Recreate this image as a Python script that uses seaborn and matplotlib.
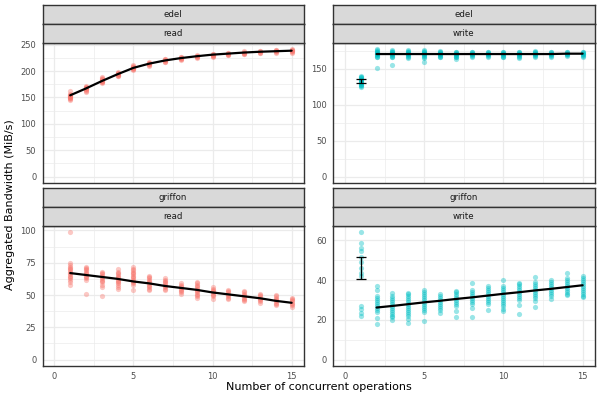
import matplotlib
matplotlib.use("Agg")
import matplotlib.pyplot as plt
import numpy as np
import pandas as pd
import seaborn as sns
from matplotlib.ticker import MultipleLocator

sns.set_style("white")
plt.rcParams['font.family'] = ['DejaVu Sans']

# ---------------- data ----------------
clusters = ["edel", "edel", "griffon", "griffon"]
operations = ["read", "write", "read", "write"]
colors = {"read": "#F8766D", "write": "#00BFC4"}

edel_read_pts = {
    1: [146, 147, 148, 149, 150, 151, 152, 153, 154, 155, 157, 163],
    2: [161, 163, 164, 165, 166, 167, 168, 169, 170, 172],
    3: [177, 179, 180, 181, 182, 183, 184, 185, 186, 188],
    4: [190, 191, 192, 193, 194, 195, 196, 197, 198],
    5: [201, 203, 204, 205, 206, 207, 208, 209, 211],
    6: [210, 212, 213, 214, 215, 216, 217],
    7: [217, 218, 219, 220, 221, 222, 223],
    8: [221, 222, 223, 224, 225, 226, 227],
    9: [225, 226, 227, 228, 229, 230],
    10: [227, 228, 229, 230, 231, 232, 233],
    11: [230, 231, 232, 233, 234, 235],
    12: [232, 233, 234, 235, 236, 237],
    13: [234, 235, 236, 237, 238],
    14: [235, 236, 237, 238, 239, 240],
    15: [235, 236, 237, 238, 239, 240, 241],
}
edel_read_line_x = [1, 2, 3, 4, 5, 6, 7, 8, 9, 10, 11, 12, 13, 14, 15]
edel_read_line_y = [154, 167, 181, 194, 206, 214, 220, 224.5, 228, 231, 233, 235, 236.5, 237.5, 238.5]

edel_write_pts = {
    1: [124, 126, 127, 128, 129, 130, 131, 132, 133, 134, 135, 136, 137, 138, 139, 140],
    2: [151, 166, 167, 168, 169, 170, 171, 172, 173, 174, 175, 176, 177],
    3: [155, 166, 167, 168, 169, 170, 171, 172, 173, 174, 175, 176],
    4: [165, 166, 168, 169, 170, 171, 172, 173, 174, 175, 176],
    5: [160, 165, 167, 168, 169, 170, 171, 172, 173, 174, 175, 176],
    6: [166, 167, 168, 169, 170, 171, 172, 173, 174, 175],
    7: [164, 166, 167, 168, 169, 170, 171, 172, 173, 174],
    8: [167, 168, 169, 170, 171, 172, 173, 174],
    9: [167, 168, 169, 170, 171, 172, 173, 174],
    10: [166, 167, 168, 169, 170, 171, 172, 173, 174],
    11: [165, 167, 168, 169, 170, 171, 172, 173, 174],
    12: [167, 168, 169, 170, 171, 172, 173, 174, 175],
    13: [167, 168, 169, 170, 171, 172, 173, 174],
    14: [168, 169, 170, 171, 172, 173, 174],
    15: [167, 168, 169, 170, 171, 172, 173, 174],
}
edel_write_line_x = [2, 3, 4, 5, 6, 7, 8, 9, 10, 11, 12, 13, 14, 15]
edel_write_line_y = [170.5, 170.5, 170.5, 170.5, 170.5, 170.5, 170.5, 170.5, 170.5, 170.5, 170.5, 170.5, 171, 171]
edel_write_err = {"x": 1, "mean": 133.3, "lo": 130.8, "hi": 135.8}

griffon_read_pts = {
    1: [58, 60, 62, 63, 64, 65, 66, 67, 68, 69, 70, 71, 72, 73, 75, 98.5],
    2: [51, 62, 63, 64, 65, 66, 67, 68, 69, 70, 71, 72],
    3: [49, 56, 58, 60, 61, 62, 63, 64, 65, 66, 67, 68],
    4: [55, 56, 58, 59, 60, 61, 62, 63, 64, 65, 66, 67, 68, 70],
    5: [54, 58, 59, 60, 61, 62, 63, 64, 65, 66, 67, 68, 69, 70, 71.5],
    6: [54, 55, 56, 57, 58, 59, 60, 61, 62, 63, 64, 65],
    7: [54, 55, 56, 57, 58, 59, 60, 61, 62, 63],
    8: [51, 52, 53, 54, 55, 56, 57, 58, 59],
    9: [48, 49, 50, 51, 52, 53, 54, 55, 56, 57, 58, 59, 60],
    10: [47, 49, 50, 51, 52, 53, 54, 55, 56],
    11: [47, 48, 49, 50, 51, 52, 53, 54],
    12: [45, 46, 47, 48, 49, 50, 51, 52, 53],
    13: [44, 45, 46, 47, 48, 49, 50, 51],
    14: [42.5, 43, 44, 45, 46, 47, 48, 49, 50],
    15: [41, 42, 43, 44, 45, 46, 47, 48],
}
griffon_read_line_x = [1, 2, 3, 4, 5, 6, 7, 8, 9, 10, 11, 12, 13, 14, 15]
griffon_read_line_y = [67, 65.5, 64, 62.5, 60.5, 59, 57, 55.5, 54, 52, 50.5, 49, 47.5, 45.5, 44]

griffon_write_pts = {
    1: [22, 23.5, 25.5, 27, 42, 43.5, 46, 49, 51.5, 54.5, 56, 58.5, 64],
    2: [18, 21, 24, 25, 26, 27, 28, 29, 30, 31, 32, 35, 37],
    3: [20, 21.5, 22, 23, 24, 25, 26, 27, 28, 29, 30, 31, 32, 33.5],
    4: [18.5, 20.5, 22, 23, 24, 25, 26, 27, 28, 29, 30, 31, 32, 33, 33.5],
    5: [19.5, 24, 25, 26, 27, 28, 29, 30, 31, 32, 33, 34, 35],
    6: [23.5, 25, 26, 27, 28, 29, 30, 31, 32, 33],
    7: [21.5, 24.5, 27, 28, 29, 30, 31, 32, 33, 34, 34.5],
    8: [21.5, 26, 28, 29, 30, 31, 32, 33, 34, 35, 38.5],
    9: [25, 28, 29, 30, 31, 32, 33, 34, 35, 36, 37],
    10: [24.5, 25.5, 27, 28, 29, 30, 31, 32, 33, 34, 35, 36, 37, 40],
    11: [23, 27.5, 30, 31, 32, 33, 34, 35, 36, 37, 38, 38.5],
    12: [26.5, 29.5, 31, 32, 33, 34, 35, 36, 37, 38, 39, 41.5],
    13: [30.5, 32, 33, 34, 35, 36, 37, 38, 39, 40],
    14: [32.5, 33, 34, 35, 36, 37, 38, 39, 40, 41, 43.5],
    15: [31.5, 32, 33, 34, 35, 36, 37, 38, 39, 40, 41, 42],
}
griffon_write_line_x = [2, 3, 4, 5, 6, 7, 8, 9, 10, 11, 12, 13, 14, 15]
griffon_write_line_y = [26.2, 27, 27.9, 28.8, 29.6, 30.5, 31.3, 32.2, 33.1, 33.9, 34.8, 35.6, 36.5, 37.4]
griffon_write_err = {"x": 1, "mean": 46, "lo": 40.5, "hi": 51.5}

x_ticks = [0, 5, 10, 15]
y_steps = [50, 50, 25, 20]
x_label = "Number of concurrent operations"
y_label = "Aggregated Bandwidth (MiB/s)"

panels = [
    (edel_read_pts, edel_read_line_x, edel_read_line_y, None),
    (edel_write_pts, edel_write_line_x, edel_write_line_y, edel_write_err),
    (griffon_read_pts, griffon_read_line_x, griffon_read_line_y, None),
    (griffon_write_pts, griffon_write_line_x, griffon_write_line_y, griffon_write_err),
]

# ---------------- figure ----------------
W, H = 600, 400
fig = plt.figure(figsize=(6, 4), dpi=100)
fig.patch.set_facecolor("white")

col_x = [(42.5, 303.5), (333.0, 594.5)]
row_y = [(43.0, 183.0), (226.0, 366.0)]
strip_h = 19.0
border_col = "#333333"


def px_rect(x0, x1, y0, y1):
    return [x0 / W, 1 - y1 / H, (x1 - x0) / W, (y1 - y0) / H]


for i, (pts, lx, ly, err) in enumerate(panels):
    r, c = divmod(i, 2)
    x0, x1 = col_x[c]
    y0, y1 = row_y[r]
    ax = fig.add_axes(px_rect(x0, x1, y0, y1))
    rows = [(n, v) for n, vals in pts.items() for v in vals]
    df = pd.DataFrame(rows, columns=["n", "bw"])
    color = colors[operations[i]]
    sns.scatterplot(data=df, x="n", y="bw", color=color, alpha=0.4, s=14,
                    linewidth=0, ax=ax, legend=False, zorder=3)
    sns.lineplot(x=lx, y=ly, color="black", lw=1.6, ax=ax, zorder=4)
    if err is not None:
        ax.errorbar([err["x"]], [err["mean"]],
                    yerr=[[err["mean"] - err["lo"]], [err["hi"] - err["mean"]]],
                    fmt="none", ecolor="black", elinewidth=0.9, capsize=3.6,
                    capthick=0.9, zorder=5)
    ymax = df["bw"].max()
    ax.set_ylim(-0.05 * ymax, 1.05 * ymax)
    ax.set_xlim(-0.75, 15.75)
    ax.xaxis.set_major_locator(matplotlib.ticker.FixedLocator(x_ticks))
    ax.xaxis.set_minor_locator(MultipleLocator(2.5))
    ax.yaxis.set_major_locator(MultipleLocator(y_steps[i]))
    ax.yaxis.set_minor_locator(MultipleLocator(y_steps[i] / 2))
    ax.grid(which="major", color="#EBEBEB", lw=0.9)
    ax.grid(which="minor", color="#EBEBEB", lw=0.5)
    ax.set_axisbelow(True)
    for s in ax.spines.values():
        s.set_color(border_col)
        s.set_linewidth(1.0)
    ax.tick_params(axis="both", which="major", length=3, width=0.8,
                   color=border_col, labelcolor="#4D4D4D", labelsize=6.0, pad=1.5)
    ax.tick_params(axis="both", which="minor", length=0)
    if r == 0:
        ax.tick_params(axis="x", labelbottom=False, length=0)
    ax.set_xlabel("")
    ax.set_ylabel("")

    # strips (cluster on top, operation below)
    for k, label in enumerate([clusters[i], operations[i]]):
        sy1 = y0 - (1 - k) * strip_h
        sy0 = sy1 - strip_h
        sax = fig.add_axes(px_rect(x0, x1, sy0, sy1))
        sax.set_facecolor("#D9D9D9")
        sax.set_xticks([])
        sax.set_yticks([])
        for s in sax.spines.values():
            s.set_color(border_col)
            s.set_linewidth(1.0)
        sax.text(0.5, 0.5, label, ha="center", va="center", fontsize=6.2,
                 color="#1A1A1A", transform=sax.transAxes)

fig.text(318.5 / W, 1 - 387.5 / H, x_label, ha="center", va="center",
         fontsize=8.0, color="black")
fig.text(10.5 / W, 1 - 204.5 / H, y_label, ha="center", va="center",
         rotation=90, fontsize=8.0, color="black")

fig.savefig("out.png", dpi=100, facecolor="white")
